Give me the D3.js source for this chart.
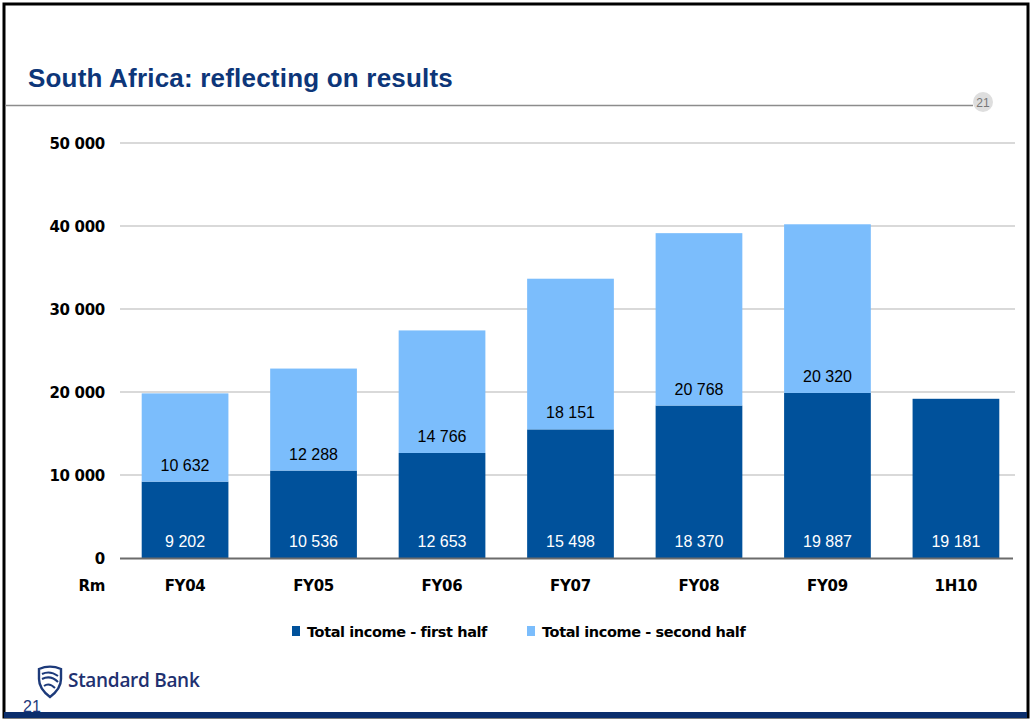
<!DOCTYPE html>
<html><head><meta charset="utf-8">
<script src="https://cdn.jsdelivr.net/npm/d3@7"></script>
<style>
html,body{margin:0;padding:0;background:#fff;}
svg{display:block;}
</style></head>
<body>
<script>
const categories = ["FY04","FY05","FY06","FY07","FY08","FY09","1H10"];
const firstHalf = [9202,10536,12653,15498,18370,19887,19181];
const secondHalf = [10632,12288,14766,18151,20768,20320,null];
const tickValues = [0,10000,20000,30000,40000,50000];
const tickLabels = ["0","10 000","20 000","30 000","40 000","50 000"];
const seriesNames = ["Total income - first half","Total income - second half"];
const colors = ["#00519b","#7bbdfc"];

const W = 1031, H = 721;
const svg = d3.select("body").append("svg").attr("width",W).attr("height",H);

// frame
svg.append("rect").attr("x",4).attr("y",4).attr("width",W-7).attr("height",H-8)
  .attr("fill","none").attr("stroke","#000").attr("stroke-width",3);
svg.append("rect").attr("x",4).attr("y",712).attr("width",W-8).attr("height",6).attr("fill","#0b2e6c");

// title
svg.append("text").attr("x",28).attr("y",87)
  .attr("font-family","Liberation Sans, Arial, sans-serif").attr("font-weight","bold")
  .attr("font-size",26).attr("letter-spacing","0.2").attr("fill","#0d3679").text("South Africa: reflecting on results");
svg.append("line").attr("x1",5).attr("x2",973).attr("y1",105.5).attr("y2",105.5)
  .attr("stroke","#8c8c8c").attr("stroke-width",1.5);
svg.append("circle").attr("cx",983).attr("cy",102).attr("r",10).attr("fill","#dedede");
svg.append("text").attr("x",983).attr("y",106.5).attr("text-anchor","middle")
  .attr("font-family","Liberation Sans, Arial, sans-serif").attr("font-size",12).attr("fill","#777").text("21");

// scales
const y = d3.scaleLinear().domain([0,50000]).range([558,143]);
const x = d3.scaleBand().domain(categories).range([120.5,1020.5]).paddingInner(0.325).paddingOuter(0.165);

const boldFont = "DejaVu Sans, Verdana, sans-serif";

// gridlines
svg.append("g").selectAll("line").data(tickValues.filter(d=>d>0)).join("line")
  .attr("x1",120).attr("x2",1015).attr("y1",d=>y(d)).attr("y2",d=>y(d))
  .attr("stroke","#d9d9d9").attr("stroke-width",2);

// y labels
svg.append("g").selectAll("text").data(tickValues).join("text")
  .attr("x",105).attr("y",d=>y(d)+6).attr("text-anchor","end")
  .attr("font-family",boldFont).attr("font-weight","bold").attr("font-size",15)
  .attr("letter-spacing","-0.3")
  .attr("fill","#000").text((d,i)=>tickLabels[i]);

// bars
const gBars = svg.append("g");
categories.forEach((c,i)=>{
  gBars.append("rect").attr("x",x(c)).attr("width",x.bandwidth())
    .attr("y",y(firstHalf[i])).attr("height",y(0)-y(firstHalf[i])).attr("fill",colors[0]);
  if (secondHalf[i]!=null){
    const tot = firstHalf[i]+secondHalf[i];
    gBars.append("rect").attr("x",x(c)).attr("width",x.bandwidth())
      .attr("y",y(tot)).attr("height",y(firstHalf[i])-y(tot)).attr("fill",colors[1]);
  }
});

// baseline
svg.append("line").attr("x1",120).attr("x2",1013).attr("y1",558.5).attr("y2",558.5)
  .attr("stroke","#6b6b6b").attr("stroke-width",2);

const fmt = v => d3.format(",")(v).replace(/,/g," ");
// value labels
categories.forEach((c,i)=>{
  const cx = x(c)+x.bandwidth()/2;
  svg.append("text").attr("x",cx).attr("y",547).attr("text-anchor","middle")
    .attr("font-family","Liberation Sans, Arial, sans-serif").attr("font-size",16)
    .attr("fill","#fff").text(fmt(firstHalf[i]));
  if (secondHalf[i]!=null){
    svg.append("text").attr("x",cx).attr("y",y(firstHalf[i])-11).attr("text-anchor","middle")
      .attr("font-family","Liberation Sans, Arial, sans-serif").attr("font-size",16)
      .attr("fill","#000").text(fmt(secondHalf[i]));
  }
});

// x labels
svg.append("g").selectAll("text").data(categories).join("text")
  .attr("x",d=>x(d)+x.bandwidth()/2).attr("y",591).attr("text-anchor","middle")
  .attr("font-family",boldFont).attr("font-weight","bold").attr("font-size",15)
  .attr("letter-spacing","-0.3")
  .attr("fill","#000").text(d=>d);
svg.append("text").attr("x",105).attr("y",591).attr("text-anchor","end")
  .attr("font-family",boldFont).attr("font-weight","bold").attr("font-size",15)
  .attr("letter-spacing","-0.3").text("Rm");

// legend
const legX = [292,527];
seriesNames.forEach((n,i)=>{
  svg.append("rect").attr("x",legX[i]).attr("y",626).attr("width",8).attr("height",10).attr("fill",colors[i]);
  svg.append("text").attr("x",legX[i]+15).attr("y",637)
    .attr("font-family",boldFont).attr("font-weight","bold").attr("font-size",14.5)
    .attr("letter-spacing","-0.4").text(n);
});

// logo
const logo = svg.append("g").attr("transform","translate(38,667)");
logo.append("path").attr("d","M1,2 C8,-1 16,-1 23,2 L23,12 C23,21 16,27 12,30 C8,27 1,21 1,12 Z")
  .attr("fill","none").attr("stroke","#1d3a7a").attr("stroke-width",2.4);
logo.append("path").attr("d","M4,7 C10,4 16,6 20,9 M4,12 C10,9 16,11 20,15 M6,19 C10,16 14,18 17,21")
  .attr("fill","none").attr("stroke","#1d3a7a").attr("stroke-width",2);
svg.append("text").attr("x",68).attr("y",687)
  .attr("font-family","Open Sans, DejaVu Sans, sans-serif").attr("font-weight","600")
  .attr("font-size",19).attr("letter-spacing","-0.3").attr("fill","#1f3170").text("Standard Bank");
svg.append("text").attr("x",23).attr("y",712)
  .attr("font-family","Liberation Sans, Arial, sans-serif").attr("font-size",16).attr("fill","#1f3b7c").text("21");
</script>
</body></html>
